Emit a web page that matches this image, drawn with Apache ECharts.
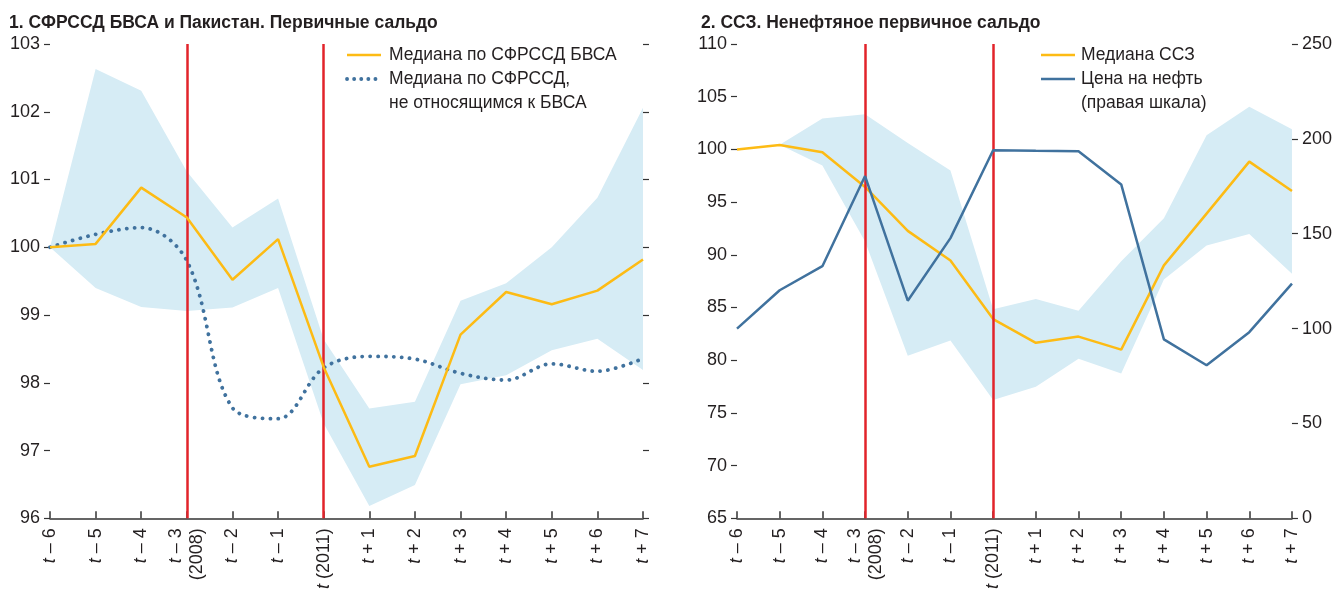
<!DOCTYPE html>
<html>
<head>
<meta charset="utf-8">
<title>Первичные сальдо</title>
<script src="https://cdn.jsdelivr.net/npm/echarts@6/dist/echarts.min.js"></script>
<style>
  html, body { margin: 0; padding: 0; background: #fff; }
  #main { width: 1335px; height: 592px; }
</style>
</head>
<body>
<div id="main"></div>
<script>
// периоды (одинаковые для обеих панелей)
const periods = ['t – 6', 't – 5', 't – 4', 't – 3\n(2008)', 't – 2', 't – 1', 't (2011)',
  't + 1', 't + 2', 't + 3', 't + 4', 't + 5', 't + 6', 't + 7']

// панель 1
const leftMedian = [100, 100.05, 100.88, 100.44, 99.52, 100.12, 98.23, 96.76, 96.92, 98.71, 99.34, 99.16, 99.36, 99.82]
const leftOtherMedian = [100, 100.19, 100.29, 99.8, 97.63, 97.47, 98.22, 98.39, 98.35, 98.14, 98.04, 98.28, 98.17, 98.36]
const leftUpper = [100, 102.63, 102.31, 101.12, 100.29, 100.72, 98.64, 97.62, 97.72, 99.21, 99.47, 100.0, 100.73, 102.06]
const leftLower = [100, 99.4, 99.12, 99.06, 99.11, 99.4, 97.4, 96.18, 96.49, 97.98, 98.11, 98.48, 98.65, 98.19]

// панель 2
const rightMedian = [100, 100.42, 99.73, 96.44, 92.27, 89.45, 83.9, 81.65, 82.24, 81.0, 89.0, 93.91, 98.84, 96.06]
const oilPrice = [100, 120.2, 132.9, 180.4, 114.7, 147.7, 194.0, 193.7, 193.5, 176.0, 94.3, 80.7, 98.1, 123.7]
const rightUpper = [null, 100.45, 102.92, 103.33, 100.6, 98.0, 84.84, 85.8, 84.7, 89.4, 93.46, 101.35, 104.05, 101.9]
const rightLower = [null, 100.45, 98.47, 91.27, 80.42, 81.87, 76.23, 77.48, 80.14, 78.73, 87.66, 90.89, 91.98, 88.2]

// вертикальные линии: 2008 и 2011
const markIdx = [3, 6]

const FONT = "'Liberation Sans', Arial, sans-serif"
const INK = '#231f20'
const YELLOW = '#fdbb14'
const BLUE = '#40729e'
const RED = '#e2232a'
const BAND = '#d6ecf5'

function diff (up, lo) {
  return up.map((v, i) => (v == null || lo[i] == null) ? null : +(v - lo[i]).toFixed(3))
}

function xAxisFor (grid) {
  return {
    type: 'category',
    gridIndex: grid,
    data: periods,
    boundaryGap: false,
    axisLine: { lineStyle: { color: '#333', width: 1.5 } },
    axisTick: { inside: true, length: 7, interval: 0, lineStyle: { color: '#333', width: 1.5 } },
    axisLabel: {
      interval: 0,
      rotate: 90,
      margin: 10,
      color: INK,
      fontFamily: FONT,
      fontSize: 18,
      lineHeight: 21,
      formatter: v => '{i|t}' + v.slice(1),
      rich: { i: { fontStyle: 'italic', fontFamily: FONT, fontSize: 18, color: INK } }
    },
    splitLine: { show: false }
  }
}

function yAxisFor (grid, pos, min, max, step, labels) {
  return {
    type: 'value',
    gridIndex: grid,
    position: pos,
    min: min,
    max: max,
    interval: step,
    axisLine: { show: false },
    axisTick: { show: true, length: 6, lineStyle: { color: '#333', width: 1.2 } },
    axisLabel: { show: labels, margin: 10, color: INK, fontFamily: FONT, fontSize: 18 },
    splitLine: { show: false }
  }
}

function bandSeries (xi, yi, up, lo) {
  return [
    {
      type: 'line', xAxisIndex: xi, yAxisIndex: yi, stack: 'band' + xi, data: lo,
      showSymbol: false, silent: true, lineStyle: { opacity: 0 }, z: 1
    },
    {
      type: 'line', xAxisIndex: xi, yAxisIndex: yi, stack: 'band' + xi, data: diff(up, lo),
      showSymbol: false, silent: true, lineStyle: { opacity: 0 },
      areaStyle: { color: BAND, opacity: 1 }, z: 1
    }
  ]
}

function redLines (xi, yi) {
  return {
    type: 'line', xAxisIndex: xi, yAxisIndex: yi, data: [], z: 3,
    markLine: {
      silent: true,
      symbol: 'none',
      label: { show: false },
      lineStyle: { color: RED, width: 2.5, type: 'solid' },
      data: markIdx.map(i => ({ xAxis: i }))
    }
  }
}

const legendText = (x, y, text) => ({
  type: 'text', x: x, y: y,
  style: { text: text, fill: INK, font: '17.5px ' + FONT, verticalAlign: 'middle' }
})
const legendLine = (x, y, color, dotted) => ({
  type: 'line',
  shape: { x1: x, y1: y, x2: x + 34, y2: y },
  style: dotted
    ? { stroke: color, lineWidth: 3.8, lineDash: [0.1, 7], lineCap: 'round' }
    : { stroke: color, lineWidth: 2.5 }
})

const option = {
  animation: false,
  backgroundColor: '#fff',
  title: [
    { text: '1. СФРССД БВСА и Пакистан. Первичные сальдо', left: 4, top: 9,
      textStyle: { fontFamily: FONT, fontSize: 17.5, fontWeight: 'bold', color: INK } },
    { text: '2. ССЗ. Ненефтяное первичное сальдо', left: 696, top: 9,
      textStyle: { fontFamily: FONT, fontSize: 17.5, fontWeight: 'bold', color: INK } }
  ],
  grid: [
    { left: 50, top: 44, width: 593, height: 479 },
    { left: 737, top: 44, width: 556, height: 479 }
  ],
  xAxis: [xAxisFor(0), xAxisFor(1)],
  yAxis: [
    yAxisFor(0, 'left', 96, 103, 1, true),
    yAxisFor(0, 'right', 96, 103, 1, false),
    yAxisFor(1, 'left', 65, 110, 5, true),
    yAxisFor(1, 'right', 0, 250, 50, true)
  ],
  series: [
    ...bandSeries(0, 0, leftUpper, leftLower),
    redLines(0, 0),
    {
      name: 'Медиана по СФРССД, не относящимся к БВСА',
      type: 'line', xAxisIndex: 0, yAxisIndex: 0, data: leftOtherMedian,
      smooth: 0.35, showSymbol: false, z: 4,
      lineStyle: { color: BLUE, width: 3.8, type: [0.1, 7.8], cap: 'round' }
    },
    {
      name: 'Медиана по СФРССД БВСА',
      type: 'line', xAxisIndex: 0, yAxisIndex: 0, data: leftMedian,
      showSymbol: false, z: 5, lineStyle: { color: YELLOW, width: 2.5 }
    },
    ...bandSeries(1, 2, rightUpper, rightLower),
    redLines(1, 2),
    {
      name: 'Медиана ССЗ',
      type: 'line', xAxisIndex: 1, yAxisIndex: 2, data: rightMedian,
      showSymbol: false, z: 4, lineStyle: { color: YELLOW, width: 2.5 }
    },
    {
      name: 'Цена на нефть',
      type: 'line', xAxisIndex: 1, yAxisIndex: 3, data: oilPrice,
      showSymbol: false, z: 5, lineStyle: { color: BLUE, width: 2.5 }
    }
  ],
  graphic: [
    legendLine(347, 55, YELLOW, false),
    legendText(389, 55, 'Медиана по СФРССД БВСА'),
    legendLine(347, 79, BLUE, true),
    legendText(389, 79, 'Медиана по СФРССД,'),
    legendText(389, 103, 'не относящимся к БВСА'),
    legendLine(1041, 55, YELLOW, false),
    legendText(1081, 55, 'Медиана ССЗ'),
    legendLine(1041, 79, BLUE, false),
    legendText(1081, 79, 'Цена на нефть'),
    legendText(1081, 103, '(правая шкала)')
  ]
}

const myChart = echarts.init(document.getElementById('main'))
myChart.setOption(option)
</script>
</body>
</html>
